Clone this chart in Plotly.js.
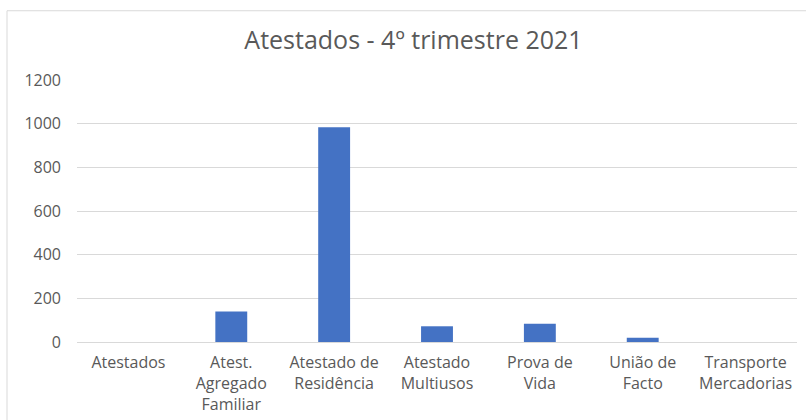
<!DOCTYPE html>
<html>
<head>
<meta charset="utf-8">
<script src="https://cdn.plot.ly/plotly-3.0.1.min.js"></script>
<style>
html,body{margin:0;padding:0;background:#fff;}
#chart{width:806px;height:420px;}
</style>
</head>
<body>
<div id="chart"></div>
<script>
var categories = ["Atestados", "Atest.<br>Agregado<br>Familiar", "Atestado de<br>Residência", "Atestado<br>Multiusos", "Prova de<br>Vida", "União de<br>Facto", "Transporte<br>Mercadorias"];
var values = [0, 140, 984, 72, 84, 19, 0];
var yTicks = [0, 200, 400, 600, 800, 1000, 1200];

var trace = {
  type: 'bar',
  x: categories,
  y: values,
  marker: {color: '#4472C4'},
  hoverinfo: 'x+y'
};

var FONT = '"Open Sans", sans-serif';

var layout = {
  width: 806,
  height: 420,
  margin: {l: 77, r: 9, t: 79.5, b: 77.5},
  paper_bgcolor: '#ffffff',
  plot_bgcolor: '#ffffff',
  bargap: 0.69,
  showlegend: false,
  font: {family: FONT, color: '#595959', size: 16},
  title: {
    text: 'Atestados - 4º trimestre 2021',
    font: {family: FONT, size: 25, color: '#595959'},
    x: 0.513, xanchor: 'center', xref: 'container',
    y: 45, yref: 'container', yanchor: 'middle'
  },
  xaxis: {
    type: 'category',
    showgrid: false,
    zeroline: false,
    showline: false,
    ticks: '',
    ticklabelstandoff: 9,
    tickfont: {family: FONT, size: 16, color: '#595959'},
    fixedrange: true
  },
  yaxis: {
    range: [0, 1200],
    tickvals: yTicks,
    ticktext: yTicks.map(String),
    showgrid: true,
    gridcolor: '#d9d9d9',
    gridwidth: 1,
    zeroline: true,
    zerolinecolor: '#d9d9d9',
    zerolinewidth: 1,
    showline: false,
    ticks: '',
    ticklabelstandoff: 15,
    tickfont: {family: FONT, size: 16, color: '#595959'},
    fixedrange: true
  },
  shapes: [
    {type: 'line', xref: 'paper', yref: 'paper', x0: -70/720, x1: 1.2, y0: (420-77.5-10)/263, y1: (420-77.5-10)/263, line: {color: '#d9d9d9', width: 1}},
    {type: 'line', xref: 'paper', yref: 'paper', x0: -70/720, x1: -70/720, y0: (420-77.5-10)/263, y1: -0.5, line: {color: '#d9d9d9', width: 1}}
  ]
};

Plotly.newPlot('chart', [trace], layout, {displayModeBar: false, staticPlot: true});
</script>
</body>
</html>
